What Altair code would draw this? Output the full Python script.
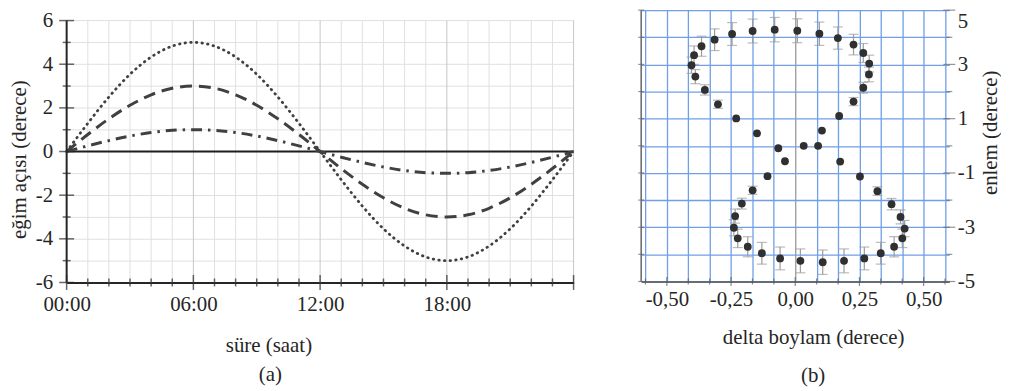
import altair as alt
import pandas as pd

FONT = "Liberation Serif"
TXT = "#262626"
LINE = "#404040"
BLUE = "#6f9fe6"

# ---------------- panel (a) data ----------------
hours = list(range(25))
tilt_5 = [0.00, 1.29, 2.50, 3.54, 4.33, 4.83, 5.00, 4.83, 4.33, 3.54, 2.50, 1.29, 0.00,
          -1.29, -2.50, -3.54, -4.33, -4.83, -5.00, -4.83, -4.33, -3.54, -2.50, -1.29, 0.00]
tilt_3 = [0.00, 0.78, 1.50, 2.12, 2.60, 2.90, 3.00, 2.90, 2.60, 2.12, 1.50, 0.78, 0.00,
          -0.78, -1.50, -2.12, -2.60, -2.90, -3.00, -2.90, -2.60, -2.12, -1.50, -0.78, 0.00]
tilt_1 = [0.00, 0.26, 0.50, 0.71, 0.87, 0.97, 1.00, 0.97, 0.87, 0.71, 0.50, 0.26, 0.00,
          -0.26, -0.50, -0.71, -0.87, -0.97, -1.00, -0.97, -0.87, -0.71, -0.50, -0.26, 0.00]
hour_ticks = list(range(25))
tilt_ticks = list(range(-6, 7))
tilt_range = [-6, 6]
zero_level = [0]

# ---------------- panel (b) data ----------------
delta_lon = [-0.404, -0.394, -0.389, -0.365, -0.352, -0.314, -0.301, -0.246, -0.230, -0.166,
             -0.149, -0.080, -0.066, 0.008, 0.094, 0.166, 0.227, 0.265, 0.288, 0.287,
             0.265, 0.227, 0.171, 0.104, 0.089, 0.033, -0.040, -0.108, -0.166, -0.208,
             -0.234, -0.239, -0.224, -0.185, -0.130, -0.059, 0.020, 0.107, 0.190, 0.269,
             0.333, 0.385, 0.417, 0.426, 0.410, 0.375, 0.320, 0.252, 0.175]
latitude = [2.97, 3.34, 2.55, 3.67, 2.06, 3.91, 1.53, 4.12, 1.01, 4.23,
            0.46, 4.28, -0.09, 4.24, 4.13, 3.97, 3.73, 3.42, 3.03, 2.63,
            2.14, 1.63, 1.10, 0.56, 0.00, 0.00, -0.57, -1.12, -1.64, -2.13,
            -2.59, -3.02, -3.41, -3.72, -3.96, -4.15, -4.24, -4.29, -4.24, -4.15,
            -3.96, -3.72, -3.41, -3.05, -2.62, -2.15, -1.67, -1.13, -0.58]
lat_err = [0.30, 0.34, 0.26, 0.37, 0.19, 0.40, 0.15, 0.42, 0, 0.44,
           0, 0.45, 0, 0.44, 0.43, 0.41, 0.38, 0.35, 0.31, 0.27,
           0.20, 0.15, 0, 0, 0, 0, 0, 0, 0.15, 0.20,
           0.26, 0.30, 0.34, 0.37, 0.40, 0.42, 0.44, 0.45, 0.44, 0.42,
           0.40, 0.37, 0.34, 0.30, 0.26, 0.21, 0.16, 0, 0]
lon_ticks = [k / 12 for k in range(-7, 8)]
lat_ticks = list(range(-5, 6))
lon_domain = [-0.6, 0.6]
lat_domain = [-5, 5]

# ================= panel (a) =================
# empty room above +6 so this panel's frame sits lower than panel (b)'s
sx_a = alt.Scale(domain=[0, 24], nice=False, zero=False, padding=0)
sy_a = alt.Scale(domain=[-6, 6.478], nice=False, zero=False, padding=0)

ax_a = alt.Axis(
    values=hour_ticks, title="süre (saat)",
    labelExpr="(datum.value % 6 == 0 && datum.value < 24) ? ((datum.value < 10 ? '0' : '') + datum.value + ':00') : ''",
    ticks=False, labelPadding=11, labelAngle=0, labelFlush=False, labelOverlap=False,
    domainColor=TXT, domainWidth=2, grid=False,
    titleX=203, titleY=69, titleAlign="center", titleBaseline="alphabetic",
)
ay_a = alt.Axis(
    values=tilt_ticks, title="eğim açısı (derece)",
    labelExpr="datum.value % 2 == 0 ? '' + datum.value : ''",
    ticks=False, labelPadding=14, labelOverlap=False, labelFlush=False,
    domain=False, grid=True, gridColor="#e0e0e0", gridWidth=1,
    titleY=150, titlePadding=6,
)

XA = alt.X("t:Q", scale=sx_a, axis=ax_a)
YA = alt.Y("v:Q", scale=sy_a, axis=ay_a)

df_a = pd.DataFrame({
    "t": hours * 3,
    "v": tilt_5 + tilt_3 + tilt_1,
    "s": ["a5"] * len(hours) + ["a3"] * len(hours) + ["a1"] * len(hours),
})

vgrid = alt.Chart(pd.DataFrame({"t": hour_ticks})).transform_calculate(
    v=str(tilt_range[0]), v2=str(tilt_range[1])).mark_rule(strokeWidth=1).encode(
    x=XA, y=YA, y2="v2:Q",
    color=alt.condition("datum.t % 6 == 0", alt.value("#c6c6c6"), alt.value("#e0e0e0")))
yaxis_line = alt.Chart(pd.DataFrame({"t": hour_ticks[:1]})).transform_calculate(
    v=str(tilt_range[0]), v2=str(tilt_range[1])).mark_rule(strokeWidth=2, color=TXT).encode(
    x=XA, y=YA, y2="v2:Q")

base_a = alt.Chart(df_a).encode(x=XA, y=YA)
dotted = base_a.transform_filter("datum.s == 'a5'").mark_line(
    color=LINE, strokeWidth=2.8, strokeDash=[0.5, 5.2], strokeCap="round", interpolate="monotone")
dashed = base_a.transform_filter("datum.s == 'a3'").mark_line(
    color=LINE, strokeWidth=3, strokeDash=[12, 7], interpolate="monotone")
dashdot = base_a.transform_filter("datum.s == 'a1'").mark_line(
    color=LINE, strokeWidth=3, strokeDash=[11, 6, 2.5, 6], interpolate="monotone")
zero_rule = alt.Chart(pd.DataFrame({"v": zero_level})).mark_rule(
    color="#1e1e1e", strokeWidth=2).encode(y=YA)
x_ticks_a = alt.Chart(pd.DataFrame({"t": hour_ticks})).transform_calculate(
    v=str(tilt_range[0])).mark_tick(orient="vertical", color=TXT, thickness=1.5).encode(
    x=XA, y=YA, size=alt.condition("datum.t % 6 == 0", alt.value(15), alt.value(8)))
y_ticks_a = alt.Chart(pd.DataFrame({"v": tilt_ticks})).transform_calculate(t="0").mark_tick(
    orient="horizontal", color=TXT, thickness=1.5).encode(
    x=XA, y=YA, size=alt.condition("datum.v % 2 == 0", alt.value(15), alt.value(8)))

left = alt.layer(vgrid, zero_rule, dotted, dashed, dashdot, yaxis_line, x_ticks_a, y_ticks_a).properties(
    width=510, height=274,
    title=alt.TitleParams("(a)", orient="bottom", anchor="middle", frame="group", dx=-50, offset=9),
)

# ================= panel (b) =================
sx_b = alt.Scale(domain=lon_domain, nice=False, zero=False, padding=0)
sy_b = alt.Scale(domain=lat_domain, nice=False, padding=0)

ax_b = alt.Axis(
    values=lon_ticks, title="delta boylam (derece)",
    labelExpr="abs(datum.value * 4 - round(datum.value * 4)) < 0.001 ? ((datum.value < -0.001 ? '-' : '') + replace(format(abs(datum.value), '.2f'), '.', ',')) : ''",
    ticks=False, labelPadding=7, labelAngle=0, labelFlush=False, labelOverlap=False,
    domainColor="#555555", domainWidth=1.5,
    grid=True, gridWidth=1.3,
    gridColor={"condition": {"test": "abs(datum.value) < 0.001", "value": "#9a9a9a"}, "value": BLUE},
    titleX=173, titleY=62, titleAlign="center", titleBaseline="alphabetic",
)
ay_b = alt.Axis(
    orient="right", values=lat_ticks, title="enlem (derece)",
    labelExpr="abs(datum.value % 2) == 1 ? '' + datum.value : ''",
    ticks=False, labelPadding=8, labelOverlap=False, labelFlush=False, labelAlign="left",
    labelBaseline={"condition": {"test": "datum.value == 5", "value": "top"}, "value": "middle"},
    domain=False, grid=True, gridColor=BLUE, gridWidth=1.3,
    titleAngle=270, titleBaseline="top", titlePadding=5, titleY=123,
)

XB = alt.X("x:Q", scale=sx_b, axis=ax_b)
YB = alt.Y("y:Q", scale=sy_b, axis=ay_b)

df_b = pd.DataFrame({"x": delta_lon, "y": latitude, "e": lat_err})
eb = alt.Chart(df_b).transform_filter("datum.e > 0").transform_calculate(
    lo="datum.y - datum.e", hi="datum.y + datum.e")
bars = eb.mark_rule(color="#9c9c9c", strokeWidth=1.2).encode(
    x=XB, y=alt.Y("lo:Q", scale=sy_b, axis=ay_b), y2="hi:Q")
cap_lo = eb.mark_tick(orient="horizontal", size=10, thickness=1.2, color="#9c9c9c").encode(
    x=XB, y=alt.Y("lo:Q", scale=sy_b, axis=ay_b))
cap_hi = eb.mark_tick(orient="horizontal", size=10, thickness=1.2, color="#9c9c9c").encode(
    x=XB, y=alt.Y("hi:Q", scale=sy_b, axis=ay_b))
pts = alt.Chart(df_b).mark_circle(size=62, color="#303030", opacity=1).encode(x=XB, y=YB)

left_edge = alt.Chart(pd.DataFrame({"x": lon_domain[:1]})).mark_rule(
    color="#666666", strokeWidth=1.5).encode(x=XB)
b_ticks = alt.Chart(pd.DataFrame({"x": lon_ticks})).transform_calculate(
    y=str(lat_domain[0])).mark_tick(orient="vertical", color="#555555", thickness=1.2).encode(
    x=XB, y=YB,
    size=alt.condition("abs(datum.x * 4 - round(datum.x * 4)) < 0.001", alt.value(9), alt.value(6)))
l_ticks = alt.Chart(pd.DataFrame({"y": lat_ticks})).transform_calculate(
    x=str(lon_domain[0])).mark_tick(orient="horizontal", color="#666666", thickness=1.2, size=6).encode(
    x=XB, y=YB)
r_ticks = alt.Chart(pd.DataFrame({"y": lat_ticks})).transform_calculate(
    x=str(lon_domain[1])).mark_tick(orient="horizontal", color="#666666", thickness=1.2).encode(
    x=XB, y=YB, size=alt.condition("abs(datum.y % 2) == 1", alt.value(12), alt.value(6)))

right = alt.layer(left_edge, bars, cap_lo, cap_hi, pts, b_ticks, l_ticks, r_ticks).properties(
    width=310, height=273,
    title=alt.TitleParams("(b)", orient="bottom", anchor="middle", frame="group", dx=18, offset=18),
)

chart = alt.hconcat(left, right, spacing=59).properties(padding=0).configure_view(
    strokeWidth=0
).configure_axis(
    labelFont=FONT, titleFont=FONT, labelFontSize=21, titleFontSize=21,
    labelColor=TXT, titleColor=TXT, titleFontWeight="normal",
).configure_title(
    font=FONT, fontSize=21, fontWeight="normal", color=TXT,
)

chart.save("out.html", embed_options={"renderer": "svg", "actions": False})
